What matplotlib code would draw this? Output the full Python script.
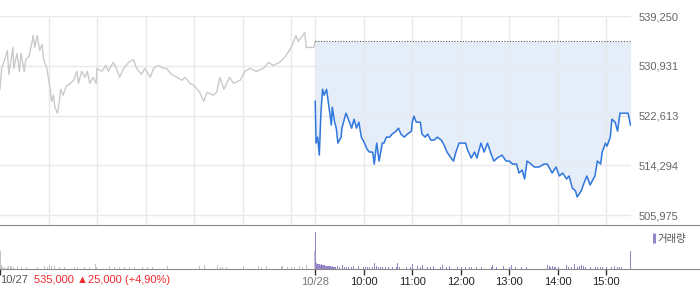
import matplotlib.pyplot as plt

# previous day (10/27) price line: minutes after 9:00, price
prev_min = [0, 2, 6, 9, 11, 16, 17, 21, 24, 26, 30, 32, 36, 39, 41, 43, 46, 49, 52, 54,
            58, 62, 64, 66, 68, 71, 73, 75, 78, 82, 87, 91, 95, 97, 101, 105, 108, 111,
            115, 119, 120, 126, 131, 134, 140, 144, 148, 153, 159, 165, 169, 175, 179,
            186, 190, 196, 202, 206, 212, 219, 225, 229, 235, 241, 247, 252, 256, 264,
            268, 272, 277, 284, 289, 297, 303, 309, 317, 326, 332, 338, 346, 353, 358,
            362, 366, 369, 377, 379, 388, 390]
prev_price = [527000, 530500, 532000, 533500, 529500, 534000, 530500, 533000, 530000,
              533000, 530000, 532000, 532500, 534500, 536000, 534000, 536000, 533500,
              534500, 532000, 530500, 527000, 525000, 526000, 524000, 523000, 524500,
              527000, 526000, 527500, 528000, 528500, 530000, 528000, 530000, 529000,
              530000, 528000, 529000, 528000, 530500, 530000, 531000, 530000, 531500,
              530500, 529000, 530500, 531500, 532000, 530500, 529500, 530500, 529000,
              530500, 531000, 530500, 530500, 529500, 529000, 528500, 529000, 528000,
              527500, 526500, 525000, 526500, 526000, 526500, 529000, 527000, 529000,
              528000, 528500, 530000, 530500, 530000, 530500, 531500, 531000, 531500,
              532500, 533500, 534500, 536000, 535000, 536500, 534000, 534000, 535000]

# today (10/28) price line
today_min = [0, 1, 3, 5, 7, 9, 11, 14, 16, 20, 21, 24, 26, 28, 32, 33, 38, 41, 45, 48,
             51, 54, 57, 61, 64, 67, 71, 73, 76, 79, 83, 85, 88, 92, 95, 100, 103, 106,
             110, 114, 119, 120, 122, 125, 130, 132, 136, 139, 143, 147, 151, 156, 160,
             163, 168, 171, 174, 178, 182, 186, 188, 193, 197, 200, 205, 209, 213, 218,
             221, 225, 231, 236, 240, 244, 249, 252, 256, 259, 262, 267, 271, 277, 283,
             287, 291, 293, 298, 302, 306, 311, 314, 318, 322, 324, 329, 333, 336, 340,
             342, 346, 349, 353, 355, 359, 361, 365, 367, 371, 374, 377, 382, 387, 390]
today_price = [525000, 518000, 519000, 516000, 523000, 527000, 526000, 527000, 525000,
               521000, 524000, 521500, 520500, 518000, 519000, 520500, 523000, 522000,
               520500, 522000, 520500, 521500, 519000, 518000, 517000, 516500, 516500,
               514500, 518000, 515000, 518000, 518000, 519000, 519000, 519500, 520000,
               520500, 519500, 519000, 519500, 520000, 521500, 522500, 521500, 521500,
               519500, 519000, 519500, 518500, 518500, 519000, 518500, 517500, 516500,
               515500, 515000, 516500, 518000, 518000, 518000, 517000, 515500, 516500,
               515500, 518000, 516500, 518000, 516000, 515000, 515500, 516000, 515000,
               515000, 514500, 514500, 513000, 513500, 512000, 515000, 514500, 514000,
               514000, 514500, 514500, 513500, 513000, 514000, 512500, 513000, 512000,
               512500, 510500, 510000, 509000, 510000, 511500, 512500, 511000, 511500,
               512500, 515000, 514500, 516500, 518000, 517500, 519000, 522000, 521500,
               520000, 523000, 523000, 523000, 521000]

prev_close = 535000

# volume (relative units)
prev_vol_min = [1, 2, 4, 6, 8, 10, 11, 13, 15, 17, 22, 27, 33, 40, 47, 56, 59, 61, 62, 64,
                66, 68, 71, 74, 80, 87, 93, 96, 105, 111, 119, 120, 136, 142, 148, 155,
                161, 167, 177, 183, 189, 208, 222, 233, 247, 253, 270, 273, 276, 281, 302,
                320, 324, 330, 349, 350, 356, 361, 365, 371, 375, 380, 390]
prev_vol = [40, 9, 2.5, 2.5, 2.5, 2.5, 5, 5, 5, 2.5, 5, 2.5, 2.5, 2.5, 2.5, 5, 3, 6, 8, 5,
            5, 5, 3, 3, 3, 3, 2.5, 3, 2.5, 2.5, 10, 3, 5, 2.5, 2.5, 3, 2.5, 3, 3, 3, 2.5,
            5, 3, 3, 5, 7, 7, 3, 3, 3, 5, 5, 3, 5, 5, 5, 3, 3, 3, 5, 3, 9, 40]

today_vol_min = [0, 1, 2, 3, 4, 5, 6, 7, 8, 9, 10, 11, 12, 13, 14, 15, 16, 17, 18, 19, 20,
                 21, 22, 23, 25, 27, 29, 33, 36, 38, 41, 44, 47, 50, 53, 56, 59, 62, 64,
                 67, 70, 73, 75, 78, 80, 83, 86, 90, 95, 100, 101, 104, 108, 112, 117, 120,
                 123, 126, 130, 132, 138, 142, 146, 150, 154, 157, 162, 166, 170, 175,
                 180, 185, 190, 193, 196, 199, 205, 218, 219, 224, 232, 240, 242, 247, 255,
                 261, 285, 287, 289, 291, 293, 295, 297, 300, 306, 310, 313, 317, 320, 324,
                 326, 329, 331, 334, 337, 340, 343, 346, 349, 352, 355, 360, 363, 366, 370,
                 373, 376, 378, 389]
today_vol = [85, 13, 11, 10, 11, 10, 9, 10, 9, 8, 8, 8, 6, 6, 5, 6, 5, 5, 5, 4, 4, 5, 4,
             4, 4, 5, 3, 7, 3, 4, 3, 3, 5, 3, 5, 5, 4, 3, 4, 4, 4, 12, 5, 4, 4, 3, 3, 3, 3,
             3, 12, 4, 3, 3, 3, 11, 3, 5, 3, 9, 3, 4, 5, 3, 3, 9, 4, 6, 3, 3, 3, 4, 3, 3, 3,
             3, 3, 3, 9, 3, 5, 3, 7, 3, 3, 3, 5, 9, 6, 4, 5, 4, 3, 4, 4, 7, 3, 3, 10, 4, 6,
             8, 5, 3, 4, 3, 4, 3, 4, 3, 4, 3, 5, 3, 5, 3, 3, 3, 40]

y_ticks = [505975, 514294, 522613, 530931, 539250]
hour_labels = ['10:00', '11:00', '12:00', '13:00', '14:00', '15:00']

session = 390  # minutes in one trading day
today_x = [session + m for m in today_min]
W, H = 700, 289

fig = plt.figure(figsize=(7, 2.89), dpi=100)
plt.rcParams['font.family'] = ['Liberation Sans', 'DejaVu Sans']

# price panel
ax = fig.add_axes([0, 1 - 225 / H, 630.5 / W, 209.5 / H])
ax.plot(prev_min, prev_price, color='#cacacd', lw=1.0, zorder=2)
ax.fill_between(today_x, today_price, prev_close, color='#e5edf9', lw=0, zorder=0.3)
ax.plot(today_x, today_price, color='#2f77dc', lw=1.1, zorder=3)
ax.plot([session, 2 * session], [prev_close, prev_close], color='#555555', lw=0.8,
        linestyle=(0, (1, 1.5)), zorder=2.5)

ax.set_xlim(0, 2 * session)
ax.set_ylim(504305, 539250 + 90)
grid_x = list(range(60, session, 60)) + [session] + list(range(session + 60, 2 * session, 60))
ax.set_xticks(grid_x)
ax.set_yticks(y_ticks)
ax.set_yticklabels([f'{v:,}' for v in y_ticks])
ax.yaxis.tick_right()
ax.tick_params(axis='both', length=0, labelbottom=False)
ax.tick_params(axis='y', labelsize=8, labelcolor='#666666', pad=6)
ax.grid(True, color='#e9e9ec', lw=1)
ax.set_axisbelow(True)
for s in ax.spines.values():
    s.set_visible(False)

# volume panel
vax = fig.add_axes([0, 1 - 268.5 / H, 1, 43.5 / H])
vax.bar(prev_vol_min, prev_vol, width=-1, align='edge', color='#c4c4c8', lw=0)
vax.bar([session + m for m in today_vol_min], today_vol, width=1,
        align='edge', color='#9685c8', lw=0)
vax.set_xlim(0, 2 * session * W / 630.5)
vax.set_ylim(0, 100)
vax.set_yticks([])
vax.spines['left'].set_visible(False)
vax.spines['right'].set_visible(False)
vax.spines['top'].set_color('#8a8a8a')
vax.spines['bottom'].set_color('#8a8a8a')
vax.set_xticks([0, session] + list(range(session + 60, 2 * session, 60)))
vax.set_xticklabels(['', '10/28'] + hour_labels)
vax.tick_params(axis='x', length=4, width=1, color='#333333', labelsize=8,
                labelcolor='#222222', pad=2)
vax.get_xticklabels()[1].set_color('#777777')

vax.text(0, -0.27, '10/27', transform=vax.transAxes, ha='left', va='center',
         fontsize=8, color='#555555')
vax.text(34 / W, -0.27, '535,000 ▲25,000 (+4,90%)', transform=vax.transAxes,
         ha='left', va='center', fontsize=8, color='#f0282d',
         family=['Liberation Sans', 'DejaVu Sans'])

# legend
vax.plot([653.5 / W], [0.7], transform=vax.transAxes, marker='|', markersize=7,
         markeredgewidth=2.2, color='#9685c8', lw=0)
fig.text(657 / W, 1 - 239 / H, '거래량', fontsize=7.5, color='#555555', va='center',
         family=['Noto Sans CJK KR', 'DejaVu Sans'])

fig.savefig('out.png', dpi=100)
